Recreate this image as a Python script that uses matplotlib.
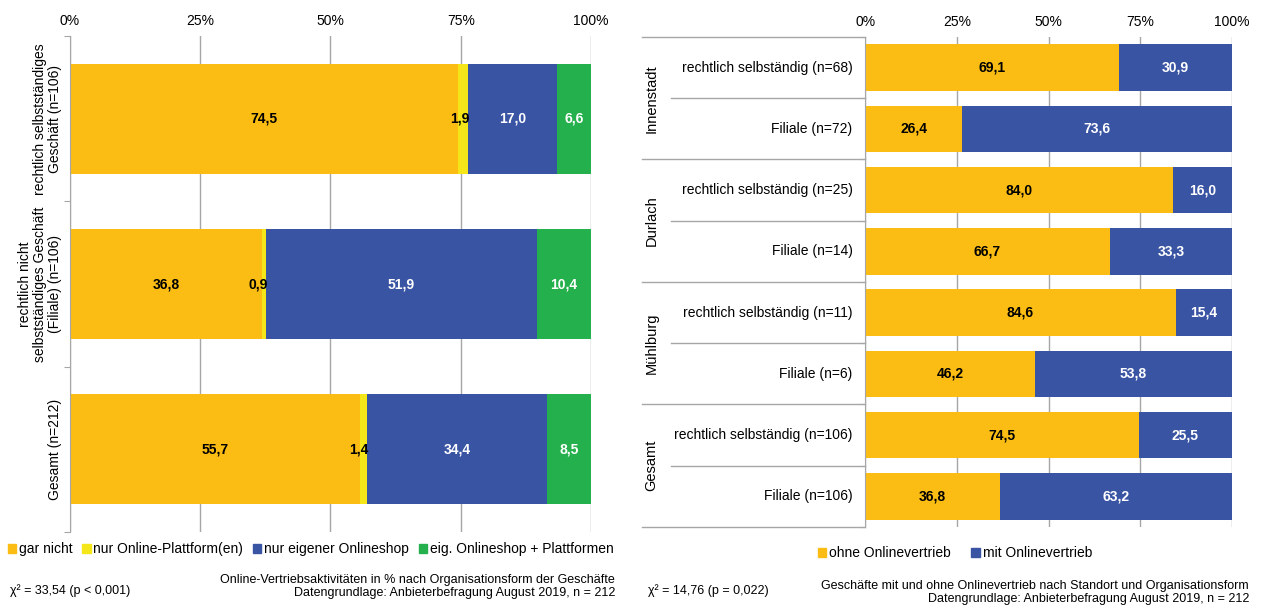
import matplotlib
matplotlib.use("Agg")
from matplotlib import pyplot as plt
from matplotlib.patches import Patch
from matplotlib.lines import Line2D
import matplotlib.transforms as mtransforms

plt.rcParams['font.family'] = ['Liberation Sans', 'DejaVu Sans']

# left chart: Online-Vertriebsaktivitaeten nach Organisationsform
left_cats = ["rechtlich selbstständiges\nGeschäft (n=106)",
             "rechtlich nicht\nselbstständiges Geschäft\n(Filiale) (n=106)",
             "Gesamt (n=212)"]
gar_nicht = [74.5, 36.8, 55.7]
nur_plattform = [1.9, 0.9, 1.4]
nur_shop = [17.0, 51.9, 34.4]
shop_plattform = [6.6, 10.4, 8.5]
left_series = ["gar nicht", "nur Online-Plattform(en)", "nur eigener Onlineshop",
               "eig. Onlineshop + Plattformen"]

# right chart: mit / ohne Onlinevertrieb nach Standort
groups = ["Innenstadt", "Durlach", "Mühlburg", "Gesamt"]
right_rows = ["rechtlich selbständig (n=68)", "Filiale (n=72)",
              "rechtlich selbständig (n=25)", "Filiale (n=14)",
              "rechtlich selbständig (n=11)", "Filiale (n=6)",
              "rechtlich selbständig (n=106)", "Filiale (n=106)"]
ohne = [69.1, 26.4, 84.0, 66.7, 84.6, 46.2, 74.5, 36.8]
mit = [30.9, 73.6, 16.0, 33.3, 15.4, 53.8, 25.5, 63.2]
right_series = ["ohne Onlinevertrieb", "mit Onlinevertrieb"]

ORANGE = "#FBBD14"
YELLOW = "#F5E61A"
BLUE = "#3A54A4"
GREEN = "#24B04C"
GRID = "#A6A6A6"
pct_ticks = [0, 25, 50, 75, 100]


def fmt(v):
    return f"{v:.1f}".replace(".", ",")


def style_axis(ax, n):
    ax.set_xlim(0, 100)
    ax.set_ylim(n - 0.5, -0.5)
    ax.xaxis.tick_top()
    ax.set_xticks(pct_ticks)
    ax.set_xticklabels([f"{t}%" for t in pct_ticks], fontsize=10)
    ax.tick_params(axis="x", length=0, pad=6)
    ax.grid(axis="x", color=GRID, lw=1)
    ax.set_axisbelow(True)
    for s in ["top", "right", "bottom"]:
        ax.spines[s].set_visible(False)
    ax.spines["left"].set_color(GRID)
    ax.set_yticks([i - 0.5 for i in range(n + 1)])
    ax.set_yticklabels([])
    ax.tick_params(axis="y", length=4, color=GRID)


fig = plt.figure(figsize=(12.63, 6.06), dpi=100)

# ---------------- left chart ----------------
axl = fig.add_axes([0.0554, 0.1229, 0.4125, 0.8169])
style_axis(axl, 3)
ypos = list(range(3))
left_data = [gar_nicht, nur_plattform, nur_shop, shop_plattform]
left_colors = [ORANGE, YELLOW, BLUE, GREEN]
starts = [0, 0, 0]
for vals, col in zip(left_data, left_colors):
    axl.barh(ypos, vals, left=starts, height=0.665, color=col)
    for i, v in enumerate(vals):
        if col == YELLOW:
            axl.text(starts[i] + v + 0.2, i, fmt(v), ha="right", va="center",
                     fontsize=10, fontweight="bold", color="black")
        else:
            axl.text(starts[i] + v / 2, i, fmt(v), ha="center", va="center",
                     fontsize=10, fontweight="bold",
                     color="black" if col == ORANGE else "white")
    starts = [s + v for s, v in zip(starts, vals)]

trans = mtransforms.blended_transform_factory(fig.transFigure, axl.transData)
for i, lab in enumerate(left_cats):
    axl.text(0.049, i, lab, transform=trans, rotation=90, ha="right", va="center",
             multialignment="center", fontsize=10, linespacing=1.1)

fig.legend([Patch(color=c) for c in left_colors], left_series, loc="center",
           bbox_to_anchor=(0.246, 0.094), ncol=4, frameon=False, fontsize=10,
           handlelength=0.6, handleheight=0.6, handletextpad=0.2, columnspacing=0.7)

fig.text(0.008, 0.026, "χ² = 33,54 (p < 0,001)", fontsize=9, ha="left", va="center")
fig.text(0.487, 0.032, "Online-Vertriebsaktivitäten in % nach Organisationsform der Geschäfte\n"
         "Datengrundlage: Anbieterbefragung August 2019, n = 212",
         fontsize=9, ha="right", va="center", multialignment="right", linespacing=1.05)

# ---------------- right chart ----------------
axr = fig.add_axes([0.685, 0.1304, 0.2906, 0.8086])
n = len(right_rows)
style_axis(axr, n)
yr = list(range(n))
axr.barh(yr, ohne, height=0.76, color=ORANGE)
axr.barh(yr, mit, left=ohne, height=0.76, color=BLUE)
for i in range(n):
    axr.text(ohne[i] / 2, i, fmt(ohne[i]), ha="center", va="center",
             fontsize=10, fontweight="bold", color="black")
    axr.text(ohne[i] + mit[i] / 2, i, fmt(mit[i]), ha="center", va="center",
             fontsize=10, fontweight="bold", color="white")

transr = mtransforms.blended_transform_factory(fig.transFigure, axr.transData)
for i, lab in enumerate(right_rows):
    axr.text(0.675, i, lab, transform=transr, ha="right", va="center", fontsize=10)
for g, name in enumerate(groups):
    axr.text(0.516, 2 * g + 0.5, name, transform=transr, rotation=90,
             ha="center", va="center", fontsize=10.5)
# separators between groups and rows
for b in range(n + 1):
    x0 = 0.508 if b % 2 == 0 else 0.531
    axr.add_line(Line2D([x0, 0.685], [b - 0.5, b - 0.5], transform=transr,
                        color=GRID, lw=1, clip_on=False))

fig.legend([Patch(color=ORANGE), Patch(color=BLUE)], right_series, loc="center",
           bbox_to_anchor=(0.756, 0.087), ncol=2, frameon=False, fontsize=10,
           handlelength=0.6, handleheight=0.6, handletextpad=0.2, columnspacing=1.5)

fig.text(0.513, 0.026, "χ² = 14,76 (p = 0,022)", fontsize=9, ha="left", va="center")
fig.text(0.989, 0.0224, "Geschäfte mit und ohne Onlinevertrieb nach Standort und Organisationsform\n"
         "Datengrundlage: Anbieterbefragung August 2019, n = 212",
         fontsize=9, ha="right", va="center", multialignment="right", linespacing=1.05)

fig.savefig("out.png", dpi=100)
